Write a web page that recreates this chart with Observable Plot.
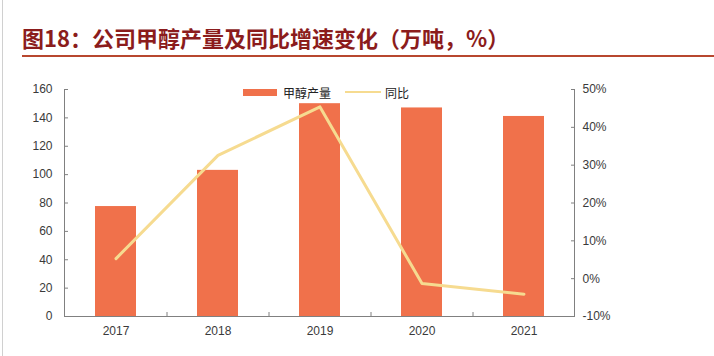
<!DOCTYPE html>
<html>
<head>
<meta charset="utf-8">
<script src="https://cdn.jsdelivr.net/npm/d3@7"></script>
<script src="https://cdn.jsdelivr.net/npm/@observablehq/plot@0.6"></script>
<style>
  html, body { margin: 0; padding: 0; background: #fff; }
  #wrap { position: relative; width: 714px; height: 356px; overflow: hidden; font-family: "Liberation Sans", Arial, sans-serif; }
  #border { position: absolute; left: 2px; top: 0; width: 1px; height: 356px; background: #d0d0d0; }
  #title { position: absolute; left: 22px; top: 24px; font-family: "Noto Sans CJK SC", sans-serif; font-weight: bold; font-size: 22px; color: #8B1C1C; white-space: nowrap; line-height: 26px; }
  #rule { position: absolute; left: 22px; right: 0; top: 55px; height: 2px; background: #B8472F; }
  #chart { position: absolute; left: 0; top: 60px; }
  #legend { position: absolute; top: 84px; left: 243px; display: flex; align-items: center; font-family: "Noto Sans CJK SC", sans-serif; font-size: 12px; color: #222; white-space: nowrap; height: 16px; }
  .sw-bar { width: 34px; height: 7px; background: #F0714B; margin-right: 6px; }
  .sw-line { width: 36px; height: 2.5px; background: #F6DB90; margin-left: 14px; margin-right: 4px; }
</style>
</head>
<body>
<div id="wrap">
  <div id="border"></div>
  <div id="title">图18：公司甲醇产量及同比增速变化（万吨，%）</div>
  <div id="rule"></div>
  <div id="chart"></div>
  <div id="legend"><div class="sw-bar"></div><span>甲醇产量</span><div class="sw-line"></div><span>同比</span></div>
</div>
<script>
const years = ["2017", "2018", "2019", "2020", "2021"];
const output = [77.5, 103, 150, 147, 141];
const yoy = [5.3, 32.6, 45.4, -1.3, -4.1];
const leftTicks = [0, 20, 40, 60, 80, 100, 120, 140, 160];
const rightTicks = [-10, 0, 10, 20, 30, 40, 50];

const leftMax = 160, rMin = -10, rMax = 50;
const toLeft = p => (p - rMin) * leftMax / (rMax - rMin);

const data = years.map((y, i) => ({year: y, output: output[i], yoy: yoy[i]}));

const W = 714, H = 296, mL = 64, mR = 140, mT = 29, mB = 40;
const step = (W - mL - mR) / years.length;
const axisColor = "#808080";
const textColor = "#3a3a3a";

const chart = Plot.plot({
  width: W, height: H,
  marginLeft: mL, marginRight: mR, marginTop: mT, marginBottom: mB,
  style: {fontFamily: "'Liberation Sans', Arial, sans-serif", fontSize: "12px", color: textColor, background: "transparent"},
  x: {domain: years, paddingInner: 0.6, paddingOuter: 0.3, axis: null, label: null},
  y: {domain: [0, leftMax], axis: null, label: null},
  marks: [
    Plot.barY(data, {x: "year", y: "output", fill: "#F0714B"}),
    Plot.line(data, {x: "year", y: d => toLeft(d.yoy), stroke: "#F6DB90", strokeWidth: 3, curve: "linear"}),
    Plot.frame({anchor: "left", stroke: axisColor}),
    Plot.frame({anchor: "right", stroke: axisColor}),
    Plot.frame({anchor: "bottom", stroke: axisColor}),
    // left axis
    Plot.axisY(leftTicks, {anchor: "left", label: null, tickSize: 4, dx: 4, tickFormat: () => "", stroke: axisColor}),
    Plot.axisY(leftTicks, {anchor: "left", label: null, tickSize: 0, tickPadding: 12, fill: textColor}),
    // right axis
    Plot.axisY(rightTicks.map(toLeft), {anchor: "right", label: null, tickSize: 4, dx: -4, tickFormat: () => "", stroke: axisColor}),
    Plot.axisY(rightTicks.map(toLeft), {anchor: "right", label: null, tickSize: 0, tickPadding: 8, fill: textColor,
      tickFormat: d => Math.round(d * (rMax - rMin) / leftMax + rMin) + "%"}),
    // bottom axis
    Plot.axisX(years.slice(0, -1), {anchor: "bottom", label: null, tickSize: 4, dx: step / 2, dy: -4, tickFormat: () => "", stroke: axisColor}),
    Plot.axisX(years, {anchor: "bottom", label: null, tickSize: 0, tickPadding: 10, fill: textColor})
  ]
});
document.getElementById("chart").appendChild(chart);
</script>
</body>
</html>
